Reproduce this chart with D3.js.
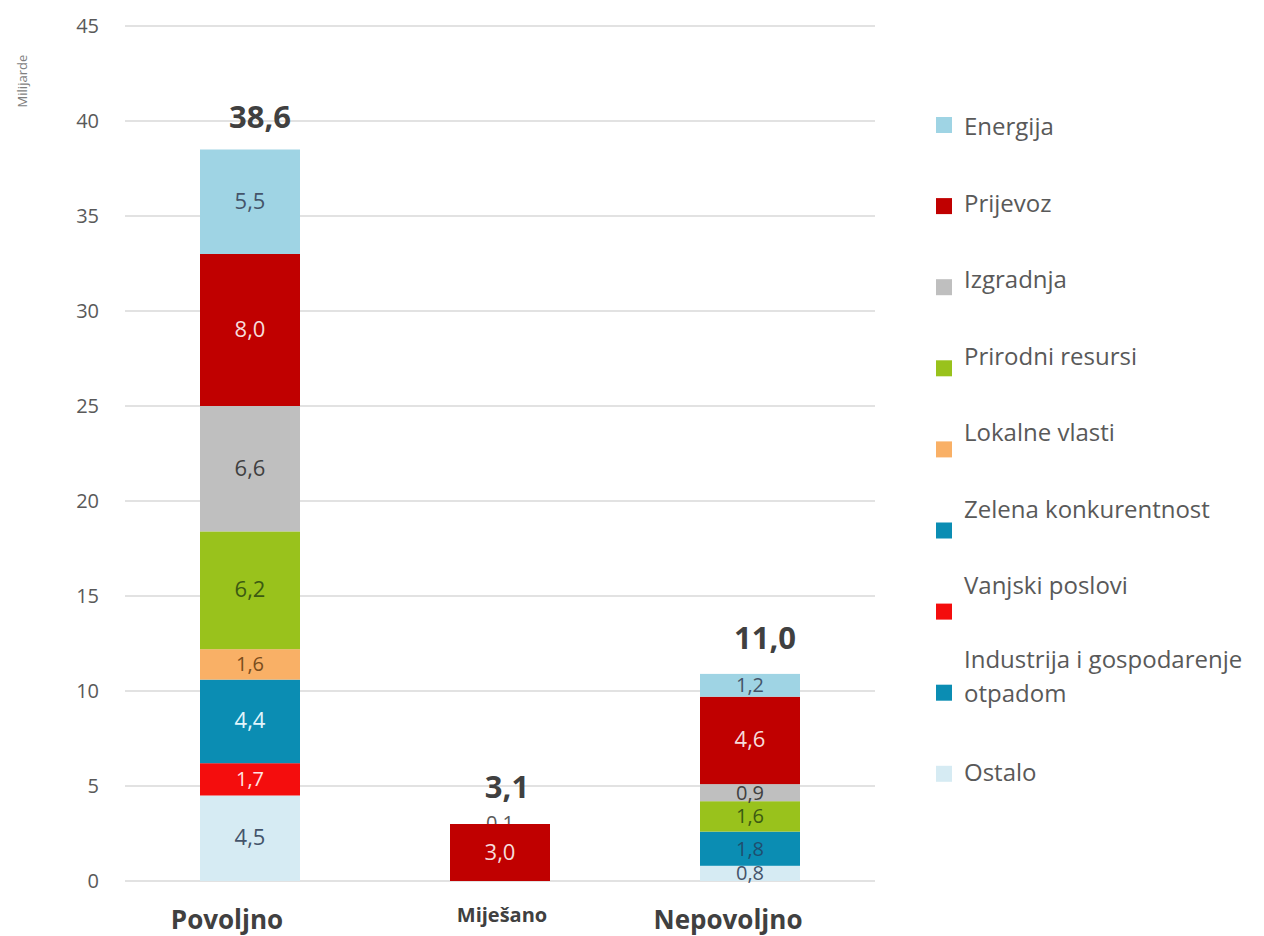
<!DOCTYPE html>
<html>
<head>
<meta charset="utf-8">
<script src="https://cdn.jsdelivr.net/npm/d3@7"></script>
<style>
  html, body { margin: 0; padding: 0; background: #fff; }
  svg { display: block; font-family: "Open Sans", "Noto Sans", sans-serif; }
</style>
</head>
<body>
<svg id="chart" width="1264" height="936"></svg>
<script>
// ---- data ----
const categories = ["Povoljno", "Miješano", "Nepovoljno"];
const seriesNames = ["Energija", "Prijevoz", "Izgradnja", "Prirodni resursi", "Lokalne vlasti",
  "Zelena konkurentnost", "Vanjski poslovi", "Industrija i gospodarenje otpadom", "Ostalo"];
const energija    = [5.5, 0.1, 1.2];
const prijevoz    = [8.0, 3.0, 4.6];
const izgradnja   = [6.6, 0, 0.9];
const prirodni    = [6.2, 0, 1.6];
const lokalne     = [1.6, 0, 0];
const zelena      = [4.4, 0, 0];
const vanjski     = [1.7, 0, 0];
const industrija  = [0, 0, 1.8];
const ostalo      = [4.5, 0, 0.8];
const totals      = [38.6, 3.1, 11.0];
const yTicks      = [0, 5, 10, 15, 20, 25, 30, 35, 40, 45];
const yTitle      = "Milijarde";

const seriesValues = [energija, prijevoz, izgradnja, prirodni, lokalne, zelena, vanjski, industrija, ostalo];
const fills = ["#9fd4e4", "#c00000", "#bfbfbf", "#99c21c", "#f9b066", "#0b8db3", "#f40d0d", "#0b8db3", "#d6ebf3"];
const labelColors = ["#44546a", "#f6dcdc", "#404040", "#3c5a12", "#7a4d1c", "#e2f5fc", "#ffe4e4", "#1f4e6e", "#44546a"];

const fmt = v => v.toFixed(1).replace(".", ",");

// ---- build table ----
const table = categories.map((c, ci) => {
  const row = { cat: c };
  seriesNames.forEach((s, si) => row[s] = seriesValues[si][ci]);
  return row;
});
const stackOrder = seriesNames.slice().reverse(); // bottom-up
const stacked = d3.stack().keys(stackOrder)(table);

// ---- scales ----
const svg = d3.select("#chart");
const x = d3.scaleBand().domain(categories).range([125, 875]).paddingInner(0.6).paddingOuter(0.3);
const y = d3.scaleLinear().domain([0, 45]).range([881, 26]);

// gridlines
svg.append("g").selectAll("line").data(yTicks).join("line")
  .attr("x1", 125).attr("x2", 875)
  .attr("y1", d => y(d)).attr("y2", d => y(d))
  .attr("stroke", "#d9d9d9").attr("stroke-width", 1.3);

// y axis labels
const yAxis = d3.axisLeft(y).tickValues(yTicks).tickSize(0).tickPadding(0).tickFormat(d3.format("d"));
const yg = svg.append("g").attr("transform", "translate(99,0)").call(yAxis);
yg.select(".domain").remove();
yg.selectAll("text").attr("fill", "#595959").style("font-size", "20px")
  .style("font-family", "'Open Sans', sans-serif");

// y title
svg.append("text")
  .attr("transform", `translate(27,${y(42.1)}) rotate(-90)`)
  .attr("text-anchor", "middle").attr("fill", "#7f7f7f").style("font-size", "13px")
  .text(yTitle);

const labelUnder = svg.append("g");
const barsG = svg.append("g");
const labelOver = svg.append("g");

stacked.forEach(layer => {
  const si = seriesNames.indexOf(layer.key);
  const segs = layer.filter(d => d[1] - d[0] > 0);
  barsG.selectAll(null).data(segs).join("rect")
    .attr("x", d => x(d.data.cat))
    .attr("width", x.bandwidth())
    .attr("y", d => y(d[1]))
    .attr("height", d => y(d[0]) - y(d[1]))
    .attr("fill", v => (v[1] - v[0]) < 0.3 ? "none" : fills[si]);
  segs.forEach(d => {
    const v = d[1] - d[0];
    const small = v < 0.3;
    const g = small ? labelUnder : labelOver;
    const cy = small ? y(d[1]) + 8 : y((d[0] + d[1]) / 2) + 7;
    g.append("text")
      .attr("x", x(d.data.cat) + x.bandwidth() / 2)
      .attr("y", cy)
      .attr("text-anchor", "middle")
      .attr("fill", small ? "#595959" : labelColors[si])
      .style("font-size", v < 2 ? "20px" : "22px")
      .text(fmt(seriesValues[si][categories.indexOf(d.data.cat)]));
  });
});

// totals
const totalDx = [10, 7, 15];
const totalDy = [22, 24, 25];
const topOf = categories.map((c, ci) => d3.max(stacked, l => l[ci][1]));
svg.append("g").selectAll("text").data(totals).join("text")
  .attr("x", (d, i) => x(categories[i]) + x.bandwidth() / 2 + totalDx[i])
  .attr("y", (d, i) => y(topOf[i]) - totalDy[i])
  .attr("text-anchor", "middle").attr("fill", "#404040")
  .style("font-size", "31px").style("font-weight", "bold")
  .text(d => fmt(d));

// category labels
const catDx = [-23, 2, -22];
const catSize = [26, 20, 26];
const catY = [929, 922, 929];
svg.append("g").selectAll("text").data(categories).join("text")
  .attr("x", (d, i) => x(d) + x.bandwidth() / 2 + catDx[i])
  .attr("y", (d, i) => catY[i])
  .attr("text-anchor", "middle").attr("fill", "#404040")
  .style("font-size", (d, i) => catSize[i] + "px").style("font-weight", "bold")
  .text(d => d);

// legend
const leg = svg.append("g");
seriesNames.forEach((s, i) => {
  const sqY = 125 + i * 81.1;
  leg.append("rect").attr("x", 936).attr("y", sqY - 8).attr("width", 16).attr("height", 16)
    .attr("fill", fills[i]);
  let lines;
  if (i === 7) {
    lines = [["Industrija i gospodarenje", 660], ["otpadom", 694]];
  } else if (i === 8) {
    lines = [[s, 773]];
  } else {
    lines = [[s, 127 + i * 76.5]];
  }
  lines.forEach(([t, ty]) => {
    leg.append("text").attr("x", 964).attr("y", ty + 8)
      .attr("fill", "#595959").style("font-size", "24px").text(t);
  });
});
</script>
</body>
</html>
